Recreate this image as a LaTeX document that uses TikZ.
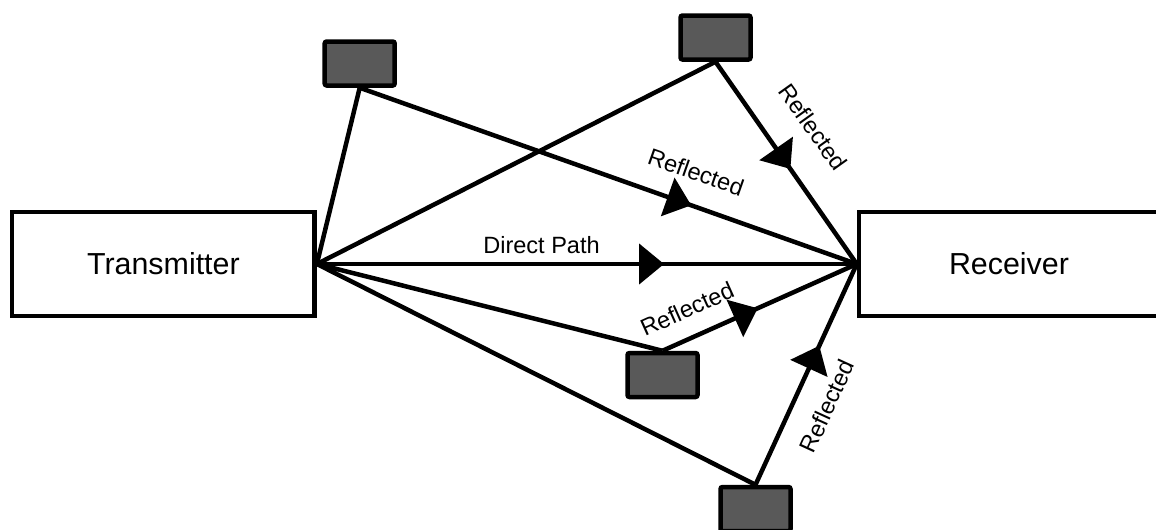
\documentclass[tikz,border=0pt]{standalone}
\usepackage{fontspec}
\setmainfont{Liberation Sans}
\usetikzlibrary{arrows.meta,decorations.markings}
\definecolor{obst}{HTML}{595959}
\begin{document}
\begin{tikzpicture}[x=0.02cm,y=-0.02cm,
  line width=0.09cm,
  station/.style={draw, rectangle, inner sep=0, minimum height=2.08cm,
    font=\fontsize{17.3}{20}\selectfont},
  scatterer/.style={draw, fill=obst, rectangle, rounded corners=0.04cm,
    inner sep=0, minimum width=1.4cm, minimum height=0.88cm},
  ray/.style={postaction={decorate}, decoration={markings,
    mark=at position #1 with {\arrow{Triangle[length=0.5cm,width=0.8cm]}}}},
  tag/.style={font=\fontsize{13.4}{16}\selectfont, inner sep=0}
]
\useasboundingbox (0,0) rectangle (1156,529);
\clip (0,0) rectangle (1156,529);

% end stations
\node[station, minimum width=6.05cm] (tx) at (163.4,264) {Transmitter};
\node[station, minimum width=6cm] (rx) at (1009,264) {Receiver};

% reflecting objects
\node[scatterer] (o1) at (359.7,63.5) {};
\node[scatterer] (o2) at (715.5,37.5) {};
\node[scatterer] (o3) at (662.5,375) {};
\node[scatterer] (o4) at (755.5,509) {};

% direct path
\draw[ray=0.643] (tx.east) -- (rx.west);
\node[tag] (ldirect) at (541.5,245) {Direct Path};

% reflected paths
\draw (tx.east) -- (o1.south);
\draw[ray=0.667] (o1.south) -- (rx.west);
\draw (tx.east) -- (o2.south);
\draw[ray=0.53] (o2.south) -- (rx.west);
\draw (tx.east) -- (o3.north);
\draw[ray=0.49] (o3.north) -- (rx.west);
\draw (tx.east) -- (o4.north);
\draw[ray=0.63] (o4.north) -- (rx.west);

% path labels
\node[tag, rotate=-19.4] (l1) at (696,172) {Reflected};
\node[tag, rotate=-54.5] (l2) at (813,127) {Reflected};
\node[tag, rotate=24.1] (l3) at (687,309) {Reflected};
\node[tag, rotate=65.4] (l4) at (827,406) {Reflected};
\end{tikzpicture}
\end{document}
